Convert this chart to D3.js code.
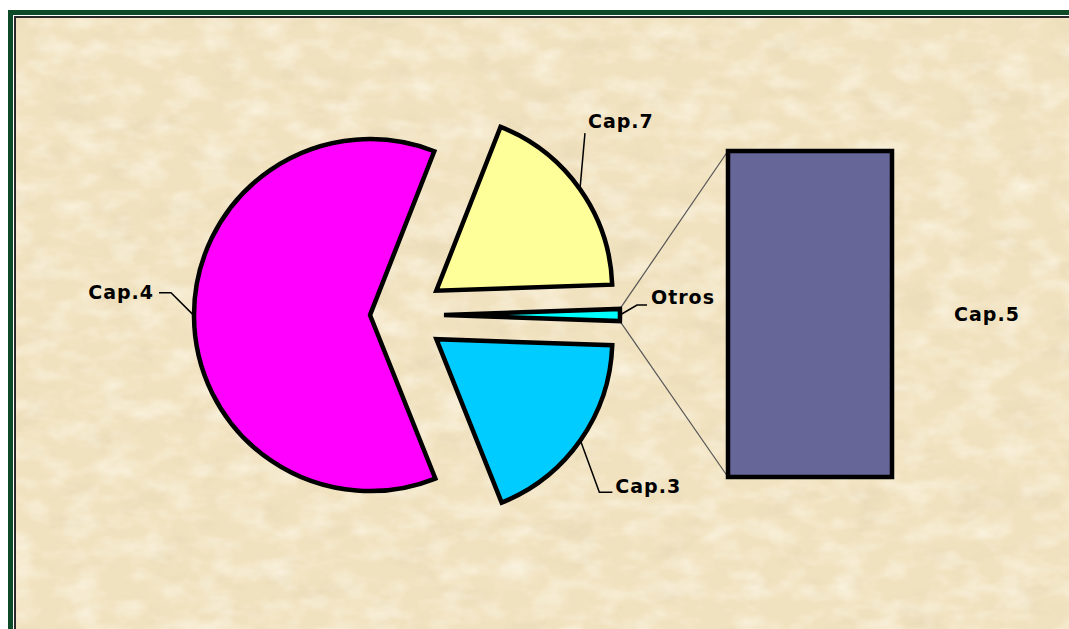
<!DOCTYPE html>
<html>
<head>
<meta charset="utf-8">
<style>
  body { margin: 0; background: white; }
  svg { display: block; }
  .lbl { font-family: "DejaVu Sans", sans-serif; font-weight: bold; font-size: 19px; letter-spacing: 1px; fill: black; }
</style>
</head>
<body>
<script src="https://cdn.jsdelivr.net/npm/d3@7/dist/d3.min.js"></script>
<script>
  // chart values (percent share)
  const categories = ['Cap.4', 'Cap.7', 'Cap.3', 'Cap.5'];
  const values = [62, 18.5, 18.4, 1.1];
  const barCategories = ['Cap.5'];          // split off into the bar
  const pieOrder = ['Cap.4', 'Cap.7', 'Otros', 'Cap.3'];
  const colors = ['#ff00ff', '#ffff99', '#00ffff', '#00ccff'];
  const barColors = ['#666699'];

  const w = 1069, h = 629;
  const cx = 402, cy = 315, R = 176;
  const bar = {x0: 728, x1: 892, t: 151, b: 477};

  const svg = d3.select('body').append('svg')
    .attr('width', w).attr('height', h);

  // parchment texture
  const defs = svg.append('defs');
  const f = defs.append('filter').attr('id', 'paper')
    .attr('x', 0).attr('y', 0).attr('width', '100%').attr('height', '100%');
  f.append('feTurbulence').attr('type', 'fractalNoise')
    .attr('baseFrequency', '0.02 0.035').attr('numOctaves', 4).attr('seed', 7);
  f.append('feColorMatrix').attr('type', 'matrix')
    .attr('values', '0 0 0 0 0.72  0 0 0 0 0.62  0 0 0 0 0.42  0 0 0 -0.9 0.42');
  f.append('feComposite').attr('in2', 'SourceGraphic').attr('operator', 'in');

  const f2 = defs.append('filter').attr('id', 'paperLight')
    .attr('x', 0).attr('y', 0).attr('width', '100%').attr('height', '100%');
  f2.append('feTurbulence').attr('type', 'fractalNoise')
    .attr('baseFrequency', '0.03 0.05').attr('numOctaves', 3).attr('seed', 11);
  f2.append('feColorMatrix').attr('type', 'matrix')
    .attr('values', '0 0 0 0 1  0 0 0 0 0.97  0 0 0 0 0.88  0 0 0 1.2 -0.5');
  f2.append('feComposite').attr('in2', 'SourceGraphic').attr('operator', 'in');

  // frame
  svg.append('rect').attr('x', 8).attr('y', 10).attr('width', w).attr('height', h)
    .attr('fill', '#0d4a28');
  svg.append('rect').attr('x', 13).attr('y', 15).attr('width', w).attr('height', h)
    .attr('fill', 'white');
  svg.append('rect').attr('x', 14).attr('y', 16).attr('width', w).attr('height', h)
    .attr('fill', '#2a2a2a');
  svg.append('rect').attr('x', 16).attr('y', 18).attr('width', w).attr('height', h)
    .attr('fill', '#f1e2bf');
  svg.append('rect').attr('x', 16).attr('y', 18).attr('width', w).attr('height', h)
    .attr('fill', '#f1e2bf').attr('filter', 'url(#paper)');
  svg.append('rect').attr('x', 16).attr('y', 18).attr('width', w).attr('height', h)
    .attr('fill', '#f1e2bf').attr('filter', 'url(#paperLight)');

  // pie data: main slices plus "Otros" = sum of bar categories
  const valueOf = name => values[categories.indexOf(name)];
  const otros = d3.sum(barCategories, valueOf);
  const pieVals = pieOrder.map(n => n === 'Otros' ? otros : valueOf(n));
  const total = d3.sum(pieVals);
  const iO = pieOrder.indexOf('Otros');
  const before = d3.sum(pieVals.slice(0, iO)) + otros / 2;
  const start = Math.PI / 2 - before / total * 2 * Math.PI;

  const arcs = d3.pie().sort(null).value(d => d)
    .startAngle(start).endAngle(start + 2 * Math.PI)(pieVals);
  const arc = d3.arc().innerRadius(0).outerRadius(R);

  const explode = i => i === 0 ? 32 : 42;
  const mid = a => (a.startAngle + a.endAngle) / 2;
  const off = (a, i) => [explode(i) * Math.sin(mid(a)), -explode(i) * Math.cos(mid(a))];
  const pt = (a, ang, r, i) => {
    const o = off(a, i);
    return [cx + o[0] + r * Math.sin(ang), cy + o[1] - r * Math.cos(ang)];
  };

  const g = svg.append('g');

  // connector lines from the Otros slice to the bar
  const ao = arcs[iO];
  const yBar = d3.scaleLinear().domain([0, otros]).range([bar.b, bar.t]);
  const topP = pt(ao, ao.startAngle, R, iO), botP = pt(ao, ao.endAngle, R, iO);
  g.append('line').attr('x1', topP[0]).attr('y1', topP[1])
    .attr('x2', bar.x0).attr('y2', yBar(otros))
    .attr('stroke', '#555').attr('stroke-width', 1.2);
  g.append('line').attr('x1', botP[0]).attr('y1', botP[1])
    .attr('x2', bar.x0).attr('y2', yBar(0))
    .attr('stroke', '#555').attr('stroke-width', 1.2);

  g.selectAll('path.slice').data(arcs).join('path')
    .attr('class', 'slice')
    .attr('transform', (a, i) => `translate(${cx + off(a, i)[0]},${cy + off(a, i)[1]})`)
    .attr('d', arc)
    .attr('fill', (a, i) => colors[i])
    .attr('stroke', 'black').attr('stroke-width', 4.5).attr('stroke-linejoin', 'miter');

  // bar (stacked bar categories)
  let acc = 0;
  const segs = barCategories.map((n, i) => {
    const s = {name: n, y0: acc, y1: acc + valueOf(n), color: barColors[i]};
    acc = s.y1;
    return s;
  });
  g.selectAll('rect.seg').data(segs).join('rect')
    .attr('class', 'seg')
    .attr('x', bar.x0).attr('width', bar.x1 - bar.x0)
    .attr('y', d => yBar(d.y1)).attr('height', d => yBar(d.y0) - yBar(d.y1))
    .attr('fill', d => d.color)
    .attr('stroke', 'black').attr('stroke-width', 4.5);

  // labels with leader lines
  const lead = {
    'Cap.4': {pts: [[-23, -23], [-35, -23]], tx: -40, ty: -17, anchor: 'end'},
    'Cap.7': {pts: [[5, -56]], tx: 8, ty: -61, anchor: 'start'},
    'Otros': {pts: [[17, -10], [27, -10]], tx: 31, ty: -11, anchor: 'start'},
    'Cap.3': {pts: [[19, 52], [32, 52]], tx: 35, ty: 53, anchor: 'start'}
  };
  arcs.forEach((a, i) => {
    const name = pieOrder[i];
    const p = pt(a, mid(a), R, i);
    const L = lead[name];
    const line = [p].concat(L.pts.map(q => [p[0] + q[0], p[1] + q[1]]));
    g.append('path').attr('d', d3.line()(line))
      .attr('fill', 'none').attr('stroke', 'black').attr('stroke-width', 1.5);
    g.append('text').attr('class', 'lbl')
      .attr('x', p[0] + L.tx).attr('y', p[1] + L.ty)
      .attr('text-anchor', L.anchor)
      .text(name);
  });

  g.selectAll('text.barlbl').data(segs).join('text')
    .attr('class', 'lbl barlbl')
    .attr('x', 987).attr('y', d => (yBar(d.y0) + yBar(d.y1)) / 2 + 7)
    .attr('text-anchor', 'middle')
    .text(d => d.name);
</script>
</body>
</html>
